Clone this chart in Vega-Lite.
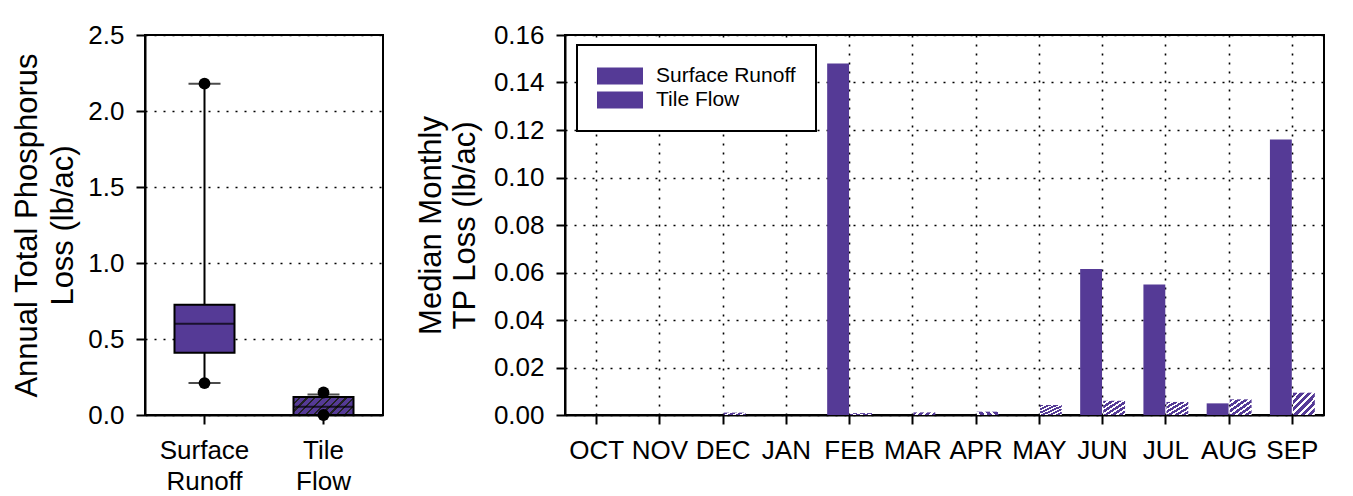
{
  "$schema": "https://vega.github.io/schema/vega-lite/v6.json",
  "padding": {"left": 10, "top": 21, "right": 5, "bottom": 0},
  "background": "white",
  "config": {
    "font": "Liberation Sans",
    "view": {"stroke": "black", "strokeWidth": 2},
    "axis": {
      "labelFont": "Liberation Sans", "labelFontSize": 26, "labelColor": "black",
      "titleFont": "Liberation Sans", "titleFontSize": 31, "titleFontWeight": "normal", "titleColor": "black",
      "tickColor": "black", "tickWidth": 2, "tickSize": 9,
      "domainColor": "black", "domainWidth": 2,
      "gridColor": "black", "gridDash": [2, 7], "gridWidth": 1.6, "gridOpacity": 1
    }
  },
  "spacing": 30,
  "hconcat": [
    {
      "width": 238,
      "height": 380,
      "layer": [
        {
          "data": {"values": [
            {"group": "Surface Runoff", "lower": 0.21, "q1": 0.41, "median": 0.6, "q3": 0.725, "upper": 2.18},
            {"group": "Tile Flow", "lower": 0, "q1": 0, "median": 0.055, "q3": 0.118, "upper": 0.135}
          ]},
          "layer": [
            {
              "mark": {"type": "rule", "color": "black", "strokeWidth": 2},
              "encoding": {
                "x": {"field": "group", "type": "nominal", "sort": ["Surface Runoff", "Tile Flow"],
                  "scale": {"paddingInner": 0.5, "paddingOuter": 0.25},
                  "axis": {"title": null, "labelAngle": 0, "labelExpr": "split(datum.label, ' ')", "labelLineHeight": 31, "labelPadding": 13, "bandPosition": 0.5, "grid": false}},
                "y": {"field": "lower", "type": "quantitative",
                  "scale": {"domain": [0, 2.5], "nice": false},
                  "axis": {"values": [0, 0.5, 1, 1.5, 2, 2.5], "format": ".1f", "grid": true, "labelPadding": 12, "titlePadding": 8, "titleLineHeight": 36,
                    "title": ["Annual Total Phosphorus", "Loss (lb/ac)"]}},
                "y2": {"field": "upper"}
              }
            },
            {
              "mark": {"type": "bar", "stroke": "black", "strokeWidth": 2, "width": 60},
              "encoding": {
                "x": {"field": "group", "type": "nominal", "sort": ["Surface Runoff", "Tile Flow"]},
                "y": {"field": "q1", "type": "quantitative"},
                "y2": {"field": "q3"},
                "fill": {
                  "condition": {"test": "datum.group === 'Tile Flow'", "value": {
                    "gradient": "linear", "x1": 0, "y1": 0, "x2": 1.193, "y2": 0.358,
                    "stops": [
                      {"offset": 0, "color": "#553a96"}, {"offset": 0.07, "color": "#553a96"}, {"offset": 0.07, "color": "#222222"}, {"offset": 0.1, "color": "#222222"},
                      {"offset": 0.1, "color": "#553a96"}, {"offset": 0.17, "color": "#553a96"}, {"offset": 0.17, "color": "#222222"}, {"offset": 0.2, "color": "#222222"},
                      {"offset": 0.2, "color": "#553a96"}, {"offset": 0.27, "color": "#553a96"}, {"offset": 0.27, "color": "#222222"}, {"offset": 0.3, "color": "#222222"},
                      {"offset": 0.3, "color": "#553a96"}, {"offset": 0.37, "color": "#553a96"}, {"offset": 0.37, "color": "#222222"}, {"offset": 0.4, "color": "#222222"},
                      {"offset": 0.4, "color": "#553a96"}, {"offset": 0.47, "color": "#553a96"}, {"offset": 0.47, "color": "#222222"}, {"offset": 0.5, "color": "#222222"},
                      {"offset": 0.5, "color": "#553a96"}, {"offset": 0.57, "color": "#553a96"}, {"offset": 0.57, "color": "#222222"}, {"offset": 0.6, "color": "#222222"},
                      {"offset": 0.6, "color": "#553a96"}, {"offset": 0.67, "color": "#553a96"}, {"offset": 0.67, "color": "#222222"}, {"offset": 0.7, "color": "#222222"},
                      {"offset": 0.7, "color": "#553a96"}, {"offset": 0.77, "color": "#553a96"}, {"offset": 0.77, "color": "#222222"}, {"offset": 0.8, "color": "#222222"},
                      {"offset": 0.8, "color": "#553a96"}, {"offset": 0.87, "color": "#553a96"}, {"offset": 0.87, "color": "#222222"}, {"offset": 0.9, "color": "#222222"},
                      {"offset": 0.9, "color": "#553a96"}, {"offset": 0.97, "color": "#553a96"}, {"offset": 0.97, "color": "#222222"}, {"offset": 1, "color": "#222222"}
                    ]}},
                  "value": "#553a96"
                }
              }
            },
            {
              "mark": {"type": "tick", "color": "black", "size": 60, "thickness": 2},
              "encoding": {
                "x": {"field": "group", "type": "nominal", "sort": ["Surface Runoff", "Tile Flow"]},
                "y": {"field": "median", "type": "quantitative"}
              }
            },
            {
              "mark": {"type": "tick", "color": "black", "size": 32, "thickness": 2},
              "encoding": {
                "x": {"field": "group", "type": "nominal", "sort": ["Surface Runoff", "Tile Flow"]},
                "y": {"field": "upper", "type": "quantitative"}
              }
            },
            {
              "mark": {"type": "tick", "color": "black", "size": 32, "thickness": 2},
              "encoding": {
                "x": {"field": "group", "type": "nominal", "sort": ["Surface Runoff", "Tile Flow"]},
                "y": {"field": "lower", "type": "quantitative"}
              }
            }
          ]
        },
        {
          "data": {"values": [
            {"group": "Surface Runoff", "value": 2.18},
            {"group": "Surface Runoff", "value": 0.21},
            {"group": "Tile Flow", "value": 0.148},
            {"group": "Tile Flow", "value": 0.0}
          ]},
          "mark": {"type": "point", "filled": true, "shape": "circle", "color": "black", "size": 140, "opacity": 1},
          "encoding": {
            "x": {"field": "group", "type": "nominal", "sort": ["Surface Runoff", "Tile Flow"]},
            "y": {"field": "value", "type": "quantitative"}
          }
        }
      ]
    },
    {
      "width": 759,
      "height": 380,
      "data": {"values": [
        {"month": "OCT", "type": "Surface Runoff", "value": 0}, {"month": "OCT", "type": "Tile Flow", "value": 0},
        {"month": "NOV", "type": "Surface Runoff", "value": 0}, {"month": "NOV", "type": "Tile Flow", "value": 0},
        {"month": "DEC", "type": "Surface Runoff", "value": 0}, {"month": "DEC", "type": "Tile Flow", "value": 0.001},
        {"month": "JAN", "type": "Surface Runoff", "value": 0}, {"month": "JAN", "type": "Tile Flow", "value": 0},
        {"month": "FEB", "type": "Surface Runoff", "value": 0.148}, {"month": "FEB", "type": "Tile Flow", "value": 0.0008},
        {"month": "MAR", "type": "Surface Runoff", "value": 0}, {"month": "MAR", "type": "Tile Flow", "value": 0.0011},
        {"month": "APR", "type": "Surface Runoff", "value": 0}, {"month": "APR", "type": "Tile Flow", "value": 0.0014},
        {"month": "MAY", "type": "Surface Runoff", "value": 0}, {"month": "MAY", "type": "Tile Flow", "value": 0.0042},
        {"month": "JUN", "type": "Surface Runoff", "value": 0.0615}, {"month": "JUN", "type": "Tile Flow", "value": 0.006},
        {"month": "JUL", "type": "Surface Runoff", "value": 0.055}, {"month": "JUL", "type": "Tile Flow", "value": 0.0055},
        {"month": "AUG", "type": "Surface Runoff", "value": 0.0049}, {"month": "AUG", "type": "Tile Flow", "value": 0.0066},
        {"month": "SEP", "type": "Surface Runoff", "value": 0.116}, {"month": "SEP", "type": "Tile Flow", "value": 0.0094}
      ]},
      "mark": {"type": "bar"},
      "encoding": {
        "x": {"field": "month", "type": "nominal",
          "sort": ["OCT", "NOV", "DEC", "JAN", "FEB", "MAR", "APR", "MAY", "JUN", "JUL", "AUG", "SEP"],
          "scale": {"paddingInner": 0.29, "paddingOuter": 0.145},
          "axis": {"title": null, "labelAngle": 0, "grid": true, "bandPosition": 0.5, "labelPadding": 13}},
        "xOffset": {"field": "type", "type": "nominal", "sort": ["Surface Runoff", "Tile Flow"], "scale": {"paddingInner": 0.05}},
        "y": {"field": "value", "type": "quantitative",
          "scale": {"domain": [0, 0.16], "nice": false},
          "axis": {"values": [0, 0.02, 0.04, 0.06, 0.08, 0.1, 0.12, 0.14, 0.16], "format": ".2f", "grid": true, "labelPadding": 12, "titlePadding": 12, "titleLineHeight": 34,
            "title": ["Median Monthly", "TP Loss (lb/ac)"]}},
        "fill": {
          "field": "type", "type": "nominal",
          "scale": {"domain": ["Surface Runoff", "Tile Flow"], "range": ["#553a96", "#553a96"]},
          "condition": {"test": "datum.type === 'Tile Flow'", "value": {
            "gradient": "linear", "x1": 0, "y1": 0, "x2": 1, "y2": 1,
            "stops": [
              {"offset": 0, "color": "#553a96"}, {"offset": 0.1, "color": "#553a96"}, {"offset": 0.1, "color": "white"}, {"offset": 0.1667, "color": "white"},
              {"offset": 0.1667, "color": "#553a96"}, {"offset": 0.2667, "color": "#553a96"}, {"offset": 0.2667, "color": "white"}, {"offset": 0.3333, "color": "white"},
              {"offset": 0.3333, "color": "#553a96"}, {"offset": 0.4333, "color": "#553a96"}, {"offset": 0.4333, "color": "white"}, {"offset": 0.5, "color": "white"},
              {"offset": 0.5, "color": "#553a96"}, {"offset": 0.6, "color": "#553a96"}, {"offset": 0.6, "color": "white"}, {"offset": 0.6667, "color": "white"},
              {"offset": 0.6667, "color": "#553a96"}, {"offset": 0.7667, "color": "#553a96"}, {"offset": 0.7667, "color": "white"}, {"offset": 0.8333, "color": "white"},
              {"offset": 0.8333, "color": "#553a96"}, {"offset": 0.9333, "color": "#553a96"}, {"offset": 0.9333, "color": "white"}, {"offset": 1, "color": "white"}
            ]}},
          "legend": {
            "title": null, "orient": "none", "legendX": 432, "legendY": 10,
            "strokeColor": "black", "fillColor": "white", "padding": 20,
            "symbolType": "M-1,-0.37H1V0.37H-1Z", "symbolSize": 2116, "symbolStrokeWidth": 0,
            "labelFont": "Liberation Sans", "labelFontSize": 21, "labelColor": "black", "labelOffset": 13,
            "clipHeight": 22, "rowPadding": 2,
            "encode": {
              "legend": {"update": {"strokeWidth": {"value": 2}}},
              "symbols": {"update": {
                "fill": [
                  {"test": "datum.value === 'Tile Flow'", "value": {
                    "gradient": "linear", "x1": 0, "y1": 0, "x2": 1.205, "y2": 0.446,
                    "stops": [
                      {"offset": 0, "color": "#553a96"}, {"offset": 0.075, "color": "#553a96"}, {"offset": 0.075, "color": "white"}, {"offset": 0.125, "color": "white"},
                      {"offset": 0.125, "color": "#553a96"}, {"offset": 0.2, "color": "#553a96"}, {"offset": 0.2, "color": "white"}, {"offset": 0.25, "color": "white"},
                      {"offset": 0.25, "color": "#553a96"}, {"offset": 0.325, "color": "#553a96"}, {"offset": 0.325, "color": "white"}, {"offset": 0.375, "color": "white"},
                      {"offset": 0.375, "color": "#553a96"}, {"offset": 0.45, "color": "#553a96"}, {"offset": 0.45, "color": "white"}, {"offset": 0.5, "color": "white"},
                      {"offset": 0.5, "color": "#553a96"}, {"offset": 0.575, "color": "#553a96"}, {"offset": 0.575, "color": "white"}, {"offset": 0.625, "color": "white"},
                      {"offset": 0.625, "color": "#553a96"}, {"offset": 0.7, "color": "#553a96"}, {"offset": 0.7, "color": "white"}, {"offset": 0.75, "color": "white"},
                      {"offset": 0.75, "color": "#553a96"}, {"offset": 0.825, "color": "#553a96"}, {"offset": 0.825, "color": "white"}, {"offset": 0.875, "color": "white"},
                      {"offset": 0.875, "color": "#553a96"}, {"offset": 0.95, "color": "#553a96"}, {"offset": 0.95, "color": "white"}, {"offset": 1, "color": "white"}
                    ]}},
                  {"value": "#553a96"}
                ],
                "opacity": {"value": 1},
                "stroke": {"value": "transparent"}
              }}
            }
          }
        }
      }
    }
  ]
}
